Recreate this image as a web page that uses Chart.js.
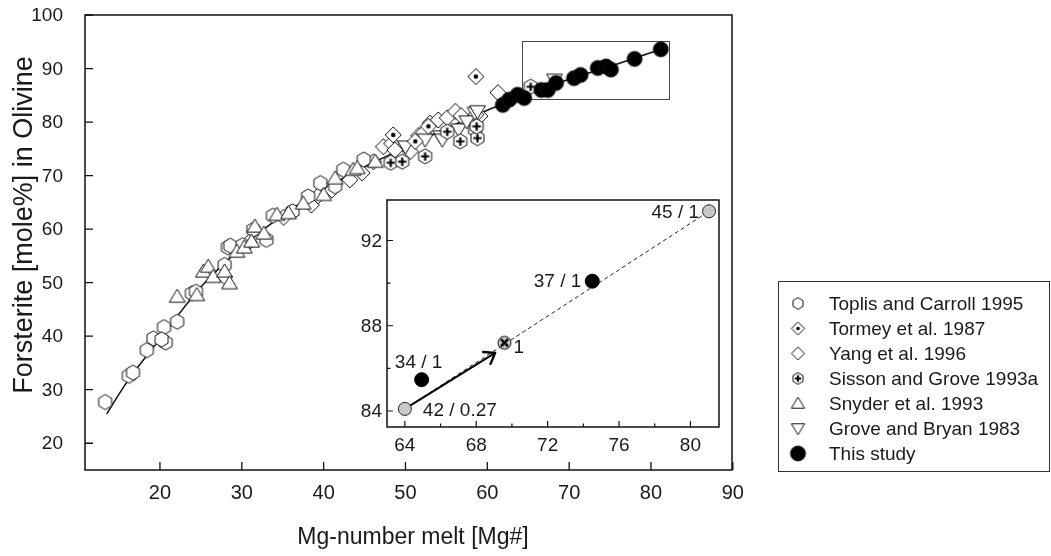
<!DOCTYPE html>
<html>
<head>
<meta charset="utf-8">
<script src="https://cdn.jsdelivr.net/npm/chart.js@4.4.0/dist/chart.umd.min.js"></script>
<style>
  html, body { margin: 0; padding: 0; background: #fff; }
  #wrap { position: relative; width: 1051px; height: 556px; }
  #main { position: absolute; left: 0; top: 0; }
  #inset { position: absolute; left: 340px; top: 190px; }
</style>
</head>
<body>
<div id="wrap">
  <canvas id="main" width="1051" height="556"></canvas>
  <canvas id="inset" width="400" height="270"></canvas>
</div>
<script>
// ---- data (Mg# melt, Fo in olivine) ----
const xTicks = [20, 30, 40, 50, 60, 70, 80, 90];
const yTicks = [20, 30, 40, 50, 60, 70, 80, 90, 100];

const seriesNames = ['Toplis and Carroll 1995', 'Tormey et al. 1987', 'Yang et al. 1996',
  'Sisson and Grove 1993a', 'Snyder et al. 1993', 'Grove and Bryan 1983', 'This study'];

const toplis = [[13.3,27.7],[16.2,32.6],[16.7,33.2],[18.4,37.4],[19.2,39.6],[20.5,41.7],[20.7,38.8],
  [20.2,39.4],[22.1,42.7],[23.9,48.0],[24.4,48.3],[27.9,53.3],[28.3,56.6],[28.6,56.9],[30.1,57.0],
  [31.4,59.9],[33.0,58.0],[33.8,62.5],[36.2,63.3],[38.1,66.1],[39.6,68.6],[41.4,68.0],[42.4,71.1],[44.9,73.0]];
const tormey = [[48.5,77.6],[51.2,76.4],[52.8,79.2],[58.6,88.5]];
const yang = [[27.9,51.1],[30.9,57.6],[35.1,62.2],[38.5,64.5],[39.3,66.2],[41.0,67.3],[43.2,69.2],
  [44.7,70.5],[46.1,72.6],[47.3,75.4],[48.3,76.0],[48.7,74.8],[50.6,74.5],[51.6,77.5],[52.2,78.0],
  [53.0,79.8],[54.0,80.4],[55.1,80.8],[56.1,82.0],[56.8,81.2],[58.1,80.3],[59.1,81.1],[58.6,81.4],[61.3,85.5]];
const sisson = [[48.2,72.4],[49.6,72.6],[52.4,73.6],[55.1,78.2],[56.7,76.4],[58.5,78.6],[58.8,77.0],
  [58.7,79.2],[65.3,86.6]];
const snyder = [[22.1,47.4],[24.5,47.7],[25.3,52.1],[25.9,53.0],[26.5,51.1],[27.9,52.1],[28.5,49.9],
  [29.4,55.8],[30.3,56.6],[31.2,57.7],[31.6,60.5],[32.7,59.2],[34.3,62.7],[35.7,63.0],[37.5,64.8],
  [40.0,66.4],[41.4,69.5],[43.6,71.1],[44.1,71.4],[46.3,72.6]];
const grove = [[50.0,75.4],[52.4,76.7],[54.3,77.3],[54.5,76.7],[56.5,78.6],[57.5,80.1],[58.5,81.7],
  [58.8,82.0],[68.2,87.9]];
const thisStudy = [[61.9,83.2],[62.7,84.2],[63.7,85.1],[64.5,84.5],[66.6,86.0],[67.4,86.0],[68.4,87.3],
  [70.6,88.2],[71.4,88.8],[73.5,90.1],[74.5,90.4],[75.1,89.8],[78.0,91.8],[81.2,93.6]];
const fitCurve = [[13.5,25.5],[16,31.5],[20,39.5],[25,49.2],[30,56.6],[35,62.6],[40,67.4],[45,71.6],
  [50,75.3],[55,78.8],[60,82.2],[65,85.3],[70,88.0],[75,90.4],[81.2,93.6]];
const zoomBoxX = [64.2, 82.2];
const zoomBoxY = [84.2, 95.1];

// inset
const insetXTicks = [64, 68, 72, 76, 80];
const insetXMinor = [66, 70, 74, 78];
const insetYTicks = [84, 88, 92];
const insetYMinor = [86, 90];
const insetGrey = [[64.0,84.1],[81.04,93.37]];
const insetBlack = [[64.94,85.47],[74.5,90.09]];
const insetCross = [[69.58,87.2]];
const insetArrow = [[64.0,84.1],[69.06,86.73]];
const insetNotes = ['42 / 0.27', '45 / 1', '34 / 1', '37 / 1', '1'];

const FONT = "'Liberation Sans', Arial, sans-serif";
const TXT = '#1a1a1a';
const pts = arr => arr.map(p => ({ x: p[0], y: p[1] }));

// marker images
function marker(kind, r) {
  const size = Math.ceil(r * 2 + 4);
  const c = document.createElement('canvas');
  c.width = c.height = size;
  const g = c.getContext('2d');
  const m = size / 2;
  g.lineWidth = 1; g.strokeStyle = '#111'; g.fillStyle = '#fff';
  g.beginPath();
  if (kind === 'hex' || kind === 'hexPlus') {
    for (let i = 0; i < 6; i++) {
      const a = Math.PI / 2 + i * Math.PI / 3;
      g.lineTo(m + r * Math.cos(a), m + r * Math.sin(a));
    }
  } else if (kind === 'dia' || kind === 'diaDot') {
    g.moveTo(m, m - r); g.lineTo(m + r, m); g.lineTo(m, m + r); g.lineTo(m - r, m);
  } else if (kind === 'tri') {
    g.moveTo(m, m - r); g.lineTo(m + r * 1.05, m + r * 0.75); g.lineTo(m - r * 1.05, m + r * 0.75);
  } else if (kind === 'triDown') {
    g.moveTo(m, m + r); g.lineTo(m + r * 1.05, m - r * 0.75); g.lineTo(m - r * 1.05, m - r * 0.75);
  } else if (kind === 'dot') {
    g.arc(m, m, r, 0, Math.PI * 2);
    g.fillStyle = '#000';
  } else if (kind === 'cross') {
    g.arc(m, m, r, 0, Math.PI * 2);
    g.fillStyle = '#c8c8c8';
  }
  g.closePath();
  g.fill(); g.stroke();
  if (kind === 'diaDot') {
    g.beginPath(); g.fillStyle = '#000';
    g.arc(m, m, r * 0.28, 0, Math.PI * 2); g.fill();
  }
  if (kind === 'hexPlus') {
    g.beginPath(); g.lineWidth = 2.2; g.strokeStyle = '#000';
    const k = r * 0.55;
    g.moveTo(m - k, m); g.lineTo(m + k, m); g.moveTo(m, m - k); g.lineTo(m, m + k);
    g.stroke();
  }
  if (kind === 'cross') {
    g.beginPath(); g.lineWidth = 2.6; g.strokeStyle = '#000';
    const k = r * 0.55;
    g.moveTo(m - k, m - k); g.lineTo(m + k, m + k); g.moveTo(m + k, m - k); g.lineTo(m - k, m + k);
    g.stroke();
  }
  return c;
}

const plotMarkers = [marker('hex', 7.5), marker('diaDot', 8), marker('dia', 8), marker('hexPlus', 7.5),
  marker('tri', 7.5), marker('triDown', 7.5), marker('dot', 7.5)];
const legendMarkers = [marker('hex', 5.8), marker('diaDot', 6.5), marker('dia', 6.5), marker('hexPlus', 5.8),
  marker('tri', 6.3), marker('triDown', 6.3), marker('dot', 7.5)];

const series = [toplis, tormey, yang, sisson, snyder, grove, thisStudy];
const seriesOrder = [5, 3, 6, 2, 4, 3, 0];

const mainDatasets = series.map((s, i) => ({
  label: seriesNames[i],
  data: pts(s),
  pointStyle: plotMarkers[i],
  pointRadius: 7,
  order: seriesOrder[i]
}));
mainDatasets.push({
  type: 'line',
  label: 'fit',
  data: pts(fitCurve),
  borderColor: '#111',
  borderWidth: 1.5,
  pointRadius: 0,
  cubicInterpolationMode: 'monotone',
  order: 10
});

// y tick labels drawn at the axis ticks (keeps the layout free of label padding)
function drawYLabels(ctx, scale, values, rightX) {
  ctx.fillStyle = TXT;
  ctx.font = '19px ' + FONT;
  ctx.textAlign = 'right';
  ctx.textBaseline = 'middle';
  values.forEach(v => ctx.fillText(String(v), rightX, scale.getPixelForValue(v) + 1));
}

const mainDecor = {
  id: 'mainDecor',
  beforeDatasetsDraw(chart) {
    const { ctx, scales: { x, y } } = chart;
    ctx.save();
    ctx.strokeStyle = '#444'; ctx.lineWidth = 1;
    const l = x.getPixelForValue(zoomBoxX[0]), r = x.getPixelForValue(zoomBoxX[1]);
    const t = y.getPixelForValue(zoomBoxY[1]), b = y.getPixelForValue(zoomBoxY[0]);
    ctx.strokeRect(Math.round(l) + 0.5, Math.round(t) + 0.5, Math.round(r - l), Math.round(b - t));
    ctx.restore();
  },
  afterDraw(chart) {
    const { ctx, chartArea: a, scales: { x, y } } = chart;
    ctx.save();
    ctx.strokeStyle = '#111'; ctx.lineWidth = 1.5;
    ctx.strokeRect(a.left, a.top, a.right - a.left, a.bottom - a.top);
    ctx.lineWidth = 1.3;
    ctx.beginPath();
    xTicks.forEach(v => { const p = x.getPixelForValue(v); ctx.moveTo(p, a.bottom); ctx.lineTo(p, a.bottom - 8); });
    yTicks.forEach(v => { const p = y.getPixelForValue(v); ctx.moveTo(a.left, p); ctx.lineTo(a.left + 8, p); });
    ctx.stroke();
    drawYLabels(ctx, y, yTicks, a.left - 22);

    // axis titles
    ctx.fillStyle = TXT;
    ctx.textAlign = 'center'; ctx.textBaseline = 'middle';
    ctx.font = '23px ' + FONT;
    ctx.fillText('Mg-number melt [Mg#]', 413, 538);
    ctx.save();
    ctx.translate(25, 225); ctx.rotate(-Math.PI / 2);
    ctx.font = '27px ' + FONT;
    ctx.fillText('Forsterite [mole%] in Olivine', 0, 0);
    ctx.restore();

    // legend
    ctx.strokeStyle = '#333'; ctx.lineWidth = 1;
    ctx.strokeRect(778.5, 281.5, 271, 190);
    ctx.font = '19px ' + FONT;
    ctx.textAlign = 'left';
    seriesNames.forEach((name, i) => {
      const yy = 303.5 + i * 25;
      const img = legendMarkers[i];
      ctx.drawImage(img, 798 - img.width / 2, yy - img.height / 2);
      ctx.fillText(name, 829, yy + 1);
    });
    ctx.restore();
  }
};

new Chart(document.getElementById('main'), {
  type: 'scatter',
  data: { datasets: mainDatasets },
  options: {
    responsive: false,
    animation: false,
    layout: { padding: { left: 0, top: 15, right: 319, bottom: 0 } },
    plugins: { legend: { display: false }, tooltip: { enabled: false } },
    scales: {
      x: {
        type: 'linear', min: 10.84, max: 89.9,
        afterFit: s => { s.height = 86; },
        afterBuildTicks: s => { s.ticks = xTicks.map(v => ({ value: v })); },
        grid: { display: false, drawTicks: false },
        border: { display: false },
        ticks: { padding: 11, color: TXT, font: { family: FONT, size: 20 } }
      },
      y: {
        type: 'linear', min: 15, max: 100,
        afterFit: s => { s.width = 85; },
        afterBuildTicks: s => { s.ticks = yTicks.map(v => ({ value: v })); },
        grid: { display: false, drawTicks: false },
        border: { display: false },
        ticks: { display: false, padding: 0 }
      }
    }
  },
  plugins: [mainDecor]
});

// ---- inset ----
const insetDecor = {
  id: 'insetDecor',
  beforeDraw(chart) {
    const { ctx, chartArea: a } = chart;
    ctx.save();
    ctx.fillStyle = '#fff';
    ctx.fillRect(a.left, a.top, a.right - a.left, a.bottom - a.top);
    ctx.restore();
  },
  afterDatasetsDraw(chart) {
    const { ctx, scales: { x, y } } = chart;
    // arrow head
    const sx = x.getPixelForValue(insetArrow[0][0]), sy = y.getPixelForValue(insetArrow[0][1]);
    const ex = x.getPixelForValue(insetArrow[1][0]), ey = y.getPixelForValue(insetArrow[1][1]);
    const ang = Math.atan2(ey - sy, ex - sx);
    ctx.save();
    ctx.strokeStyle = '#000'; ctx.lineWidth = 2.4; ctx.lineCap = 'round';
    ctx.beginPath();
    [0.62, -0.62].forEach(d => {
      ctx.moveTo(ex, ey);
      ctx.lineTo(ex - 12 * Math.cos(ang + d), ey - 12 * Math.sin(ang + d));
    });
    ctx.stroke();
    ctx.restore();
  },
  afterDraw(chart) {
    const { ctx, chartArea: a, scales: { x, y } } = chart;
    ctx.save();
    ctx.strokeStyle = '#111'; ctx.lineWidth = 1.5;
    ctx.strokeRect(a.left, a.top, a.right - a.left, a.bottom - a.top);
    ctx.lineWidth = 1.2;
    ctx.beginPath();
    insetXTicks.forEach(v => { const p = x.getPixelForValue(v); ctx.moveTo(p, a.bottom); ctx.lineTo(p, a.bottom - 6); });
    insetXMinor.forEach(v => { const p = x.getPixelForValue(v); ctx.moveTo(p, a.bottom); ctx.lineTo(p, a.bottom - 3.5); });
    insetYTicks.forEach(v => { const p = y.getPixelForValue(v); ctx.moveTo(a.left, p); ctx.lineTo(a.left + 6, p); });
    insetYMinor.forEach(v => { const p = y.getPixelForValue(v); ctx.moveTo(a.left, p); ctx.lineTo(a.left + 3.5, p); });
    ctx.stroke();
    drawYLabels(ctx, y, insetYTicks, a.left - 5);

    // point notes
    ctx.fillStyle = TXT;
    ctx.font = '19px ' + FONT;
    ctx.textBaseline = 'middle';
    const px = p => [x.getPixelForValue(p[0]), y.getPixelForValue(p[1])];
    let [gx, gy] = px(insetGrey[0]);
    ctx.textAlign = 'left'; ctx.fillText(insetNotes[0], gx + 18, gy + 2);
    [gx, gy] = px(insetGrey[1]);
    ctx.textAlign = 'right'; ctx.fillText(insetNotes[1], gx - 10, gy + 1);
    [gx, gy] = px(insetBlack[0]);
    ctx.textAlign = 'center'; ctx.fillText(insetNotes[2], gx - 3, gy - 17);
    [gx, gy] = px(insetBlack[1]);
    ctx.textAlign = 'right'; ctx.fillText(insetNotes[3], gx - 11, gy + 1);
    [gx, gy] = px(insetCross[0]);
    ctx.textAlign = 'left'; ctx.fillText(insetNotes[4], gx + 9, gy + 5);
    ctx.restore();
  }
};

new Chart(document.getElementById('inset'), {
  type: 'scatter',
  data: {
    datasets: [
      { label: 'grey', data: pts(insetGrey), pointStyle: 'circle', pointRadius: 6.5,
        backgroundColor: '#c8c8c8', borderColor: '#222', borderWidth: 1, order: 1 },
      { label: 'black', data: pts(insetBlack), pointStyle: 'circle', pointRadius: 7,
        backgroundColor: '#000', borderColor: '#000', borderWidth: 1, order: 1 },
      { label: 'cross', data: pts(insetCross), pointStyle: marker('cross', 6.5), pointRadius: 7, order: 1 },
      { type: 'line', label: 'trend', data: pts(insetGrey), borderColor: '#222', borderWidth: 1,
        borderDash: [4, 3], pointRadius: 0, order: 5 },
      { type: 'line', label: 'arrow', data: pts(insetArrow), borderColor: '#000', borderWidth: 2,
        pointRadius: 0, order: 4 }
    ]
  },
  options: {
    responsive: false,
    animation: false,
    layout: { padding: { left: 0, top: 10, right: 21, bottom: 0 } },
    plugins: { legend: { display: false }, tooltip: { enabled: false } },
    scales: {
      x: {
        type: 'linear', min: 63, max: 81.6,
        afterFit: s => { s.height = 33; },
        afterBuildTicks: s => { s.ticks = insetXTicks.map(v => ({ value: v })); },
        grid: { display: false, drawTicks: false },
        border: { display: false },
        ticks: { padding: 7, color: TXT, font: { family: FONT, size: 19 } }
      },
      y: {
        type: 'linear', min: 83.25, max: 93.9,
        afterFit: s => { s.width = 47; },
        afterBuildTicks: s => { s.ticks = insetYTicks.map(v => ({ value: v })); },
        grid: { display: false, drawTicks: false },
        border: { display: false },
        ticks: { display: false, padding: 0 }
      }
    }
  },
  plugins: [insetDecor]
});
</script>
</body>
</html>
